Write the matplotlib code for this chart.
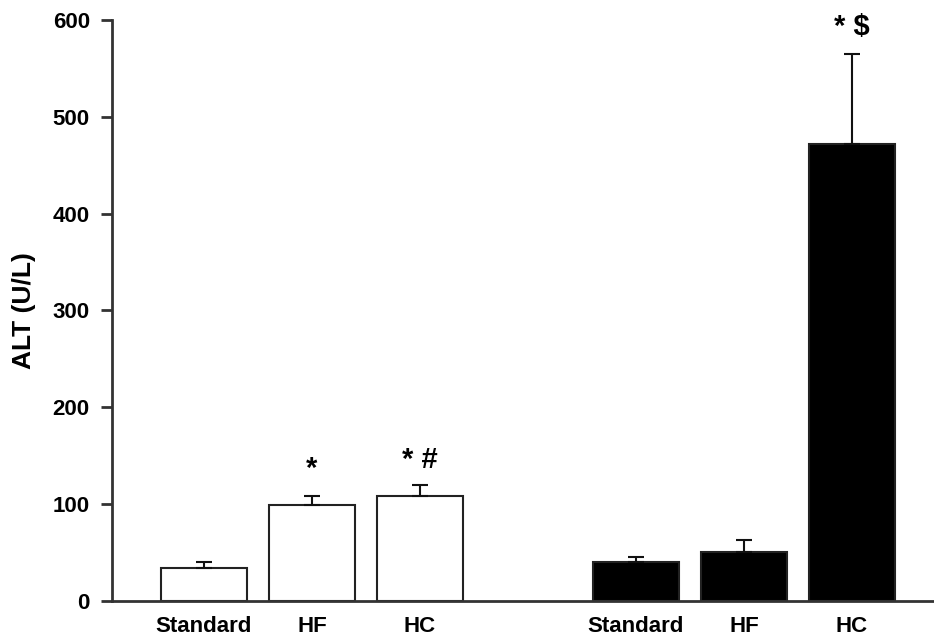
import matplotlib
matplotlib.use("Agg")
import matplotlib.pyplot as plt

plt.rcParams['font.family'] = ['Liberation Sans', 'DejaVu Sans']

categories = ["Standard", "HF", "HC", "Standard", "HF", "HC"]
positions = [0, 1, 2, 4, 5, 6]
values = [33.8, 98.8, 108.4, 39.6, 49.9, 471.8]
errors = [5.8, 9.2, 10.7, 5.1, 12.4, 92.6]
colors = ["white", "white", "white", "black", "black", "black"]
annotations = ["", "*", "* #", "", "", "* $"]
annot_y = [0, 136, 145, 0, 0, 593]

fig = plt.figure(figsize=(9.34, 6.38), dpi=100)
ax = fig.add_axes([112/934, 1-600.7/638, 1-112/934, (600.7-20)/638])

ax.bar(positions, values, width=0.8, color=colors, edgecolor="#222222", linewidth=1.5, zorder=2)
ax.errorbar(positions, values, yerr=[[0]*len(errors), errors], fmt="none",
            ecolor="#111111", elinewidth=1.5, capsize=6, capthick=1.5, zorder=3)

for x, t, y in zip(positions, annotations, annot_y):
    if t:
        ax.text(x, y, t, ha="center", va="center", fontsize=21, fontweight="bold")

ax.set_xlim(-0.852, 6.76)
ax.set_ylim(0, 600)
ax.set_yticks([0, 100, 200, 300, 400, 500, 600])
ax.set_xticks(positions)
ax.set_xticklabels(categories)
ax.tick_params(axis="x", length=0, pad=11, labelsize=16)
ax.tick_params(axis="y", length=8, width=2, color="#333333", pad=8, labelsize=16)
for lab in ax.get_xticklabels() + ax.get_yticklabels():
    lab.set_fontweight("bold")
ax.spines["top"].set_visible(False)
ax.spines["right"].set_visible(False)
for s in ["left", "bottom"]:
    ax.spines[s].set_linewidth(2)
    ax.spines[s].set_color("#333333")
ax.set_ylabel("ALT (U/L)", fontsize=19, fontweight="bold", labelpad=12)

fig.savefig("out.png", dpi=100)
